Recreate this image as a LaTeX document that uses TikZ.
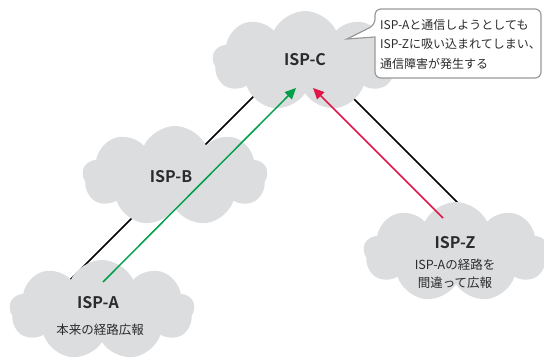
\documentclass[tikz,border=0pt]{standalone}
\usepackage{fontspec}
\setmainfont{Noto Sans CJK JP}[BoldFont={Noto Sans CJK JP Bold}]
\usetikzlibrary{shapes.symbols,arrows.meta}
\definecolor{cloudgray}{HTML}{DCDDDF}
\definecolor{txt}{HTML}{2B2B2B}
\definecolor{grn}{HTML}{00A04A}
\definecolor{rd}{HTML}{E0174A}
\definecolor{bordergray}{HTML}{9A9A9A}
\tikzset{
  isp/.style={shape=cloud, cloud puffs=9, cloud puff arc=130, aspect=1.85,
    fill=cloudgray, draw=none, minimum width=185pt, minimum height=100pt, inner sep=0pt},
  isplabel/.style={font=\bfseries\fontsize{16}{18}\selectfont, text=txt, inner sep=0pt},
  isptext/.style={font=\fontsize{12.5}{18.5}\selectfont, text=txt, align=center, inner sep=0pt},
  backlink/.style={line width=1.5pt, black},
  route/.style={line width=1.5pt, -{Triangle[length=11pt,width=10pt]}},
}
\begin{document}
\begin{tikzpicture}[x=1pt,y=-1pt]
\useasboundingbox (0,0) rectangle (544,358);
% hidden backbone links
\coordinate (la) at (70,280);
\coordinate (lc) at (265,85);
\coordinate (lc2) at (335,80);
\coordinate (lz) at (480,225);
\draw[backlink] (la) -- (lc);
\draw[backlink] (lc2) -- (lz);
% clouds
\node[isp] (C) at (305,61) {};
\node[isp] (B) at (175,176) {};
\node[isp] (A) at (102,310) {};
\node[isp] (Z) at (456,252) {};
% labels
\node[isplabel] (tC) at (305,60) {ISP-C};
\node[isplabel] (tB) at (171,177) {ISP-B};
\node[isplabel] (tA) at (98,303) {ISP-A};
\node[isptext] (sA) at (100,330) {本来の経路広報};
\node[isplabel] (tZ) at (455,243) {ISP-Z};
\node[isptext] (sZ) at (455,274) {ISP-Aの経路を\\間違って広報};
% routes
\coordinate (gs) at (103,282);
\coordinate (ge) at (296,88);
\coordinate (rs) at (443,218);
\coordinate (re) at (313,88);
\draw[route, grn] (gs) -- (ge);
\draw[route, rd] (rs) -- (re);
% callout
\coordinate (tip) at (347,39);
\draw[bordergray, line width=1.2pt, fill=white, rounded corners=6pt]
  (375,37) -- (375,78) -- (541,78) -- (541,9) -- (375,9) -- (375,25)
  [sharp corners] -- (tip) -- cycle;
\node[font=\fontsize{12}{19.5}\selectfont, text=txt, align=left, anchor=west, inner sep=0pt] (call) at (380,44)
  {ISP-Aと通信しようとしても\\ISP-Zに吸い込まれてしまい、\\通信障害が発生する};
\end{tikzpicture}
\end{document}
